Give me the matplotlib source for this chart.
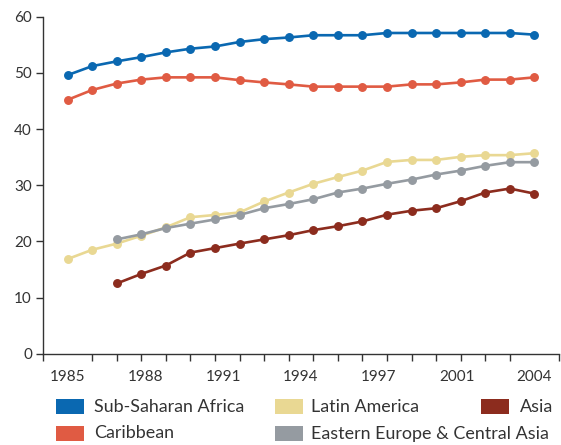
import matplotlib
matplotlib.use("Agg")
import matplotlib.pyplot as plt
from matplotlib.patches import Rectangle
import numpy as np

plt.rcParams['font.family'] = ['Lato', 'DejaVu Sans']

years = list(range(1985, 2005))
tick_labels = ["1985", "1988", "1991", "1994", "1997", "2001", "2004"]

ssa = [49.6, 51.2, 52.05, 52.8, 53.65, 54.3, 54.7, 55.5, 56.0, 56.3,
       56.7, 56.7, 56.7, 57.1, 57.1, 57.1, 57.1, 57.1, 57.1, 56.8]
carib = [45.2, 46.95, 48.1, 48.8, 49.2, 49.2, 49.2, 48.7, 48.3, 47.95,
         47.55, 47.55, 47.55, 47.55, 47.95, 47.95, 48.3, 48.8, 48.8, 49.2]
latam = [16.85, 18.5, 19.6, 21.0, 22.5, 24.3, 24.7, 25.15, 27.1, 28.7,
         30.25, 31.45, 32.6, 34.15, 34.5, 34.5, 35.05, 35.35, 35.35, 35.7]
eeca = [None, None, 20.35, 21.25, 22.37, 23.15, 23.9, 24.7, 25.9, 26.65,
        27.5, 28.7, 29.4, 30.25, 31.0, 31.9, 32.6, 33.45, 34.1, 34.1]
asia = [None, None, 12.5, 14.2, 15.7, 18.0, 18.8, 19.6, 20.35, 21.1,
        22.0, 22.7, 23.55, 24.75, 25.45, 25.9, 27.15, 28.7, 29.4, 28.5]

series = [
    ("Sub-Saharan Africa", ssa, "#0a68b1"),
    ("Caribbean", carib, "#e05b43"),
    ("Latin America", latam, "#e9d893"),
    ("Eastern Europe & Central Asia", eeca, "#959ba1"),
    ("Asia", asia, "#8c2c1e"),
]

fig = plt.figure(figsize=(5.61, 4.45), dpi=100)
ax = fig.add_axes([43/561, 1-353.7/445, (559-43)/561, (353.7-16.7)/445])

idx = np.arange(len(years))
draw_order = ["Latin America", "Eastern Europe & Central Asia", "Asia", "Caribbean", "Sub-Saharan Africa"]
sd = {n: (v, c) for n, v, c in series}
for n in draw_order:
    v, c = sd[n]
    arr = np.array([np.nan if x is None else x for x in v], dtype=float)
    ax.plot(idx, arr, color=c, lw=1.9, marker='o', ms=5.4, mec=c, mfc=c, solid_capstyle='round')

ax.set_xlim(-1, 20)
ax.set_ylim(0, 60)
ax.spines['top'].set_visible(False)
ax.spines['right'].set_visible(False)
for s in ['left', 'bottom']:
    ax.spines[s].set_color('#333333')
    ax.spines[s].set_linewidth(1.0)

ax.set_yticks([0, 10, 20, 30, 40, 50, 60])
ax.tick_params(axis='y', length=5, width=1, color='#333333', labelsize=11, labelcolor='#333333', pad=3)
major_pos = [i * 19 / 6 for i in range(7)]
ax.set_xticks(major_pos)
ax.set_xticklabels(tick_labels)
ax.set_xticks(np.arange(-1, 21), minor=True)
ax.tick_params(axis='x', which='major', length=0, labelsize=11, labelcolor='#333333', pad=12)
ax.tick_params(axis='x', which='minor', length=5, width=1, color='#333333')

# legend
legend_items = [
    ("Sub-Saharan Africa", "#0a68b1", 56, 94, 406.5),
    ("Latin America", "#e9d893", 274.5, 311, 406.5),
    ("Asia", "#8c2c1e", 481, 520, 406.5),
    ("Caribbean", "#e05b43", 56, 94, 433.5),
    ("Eastern Europe & Central Asia", "#959ba1", 274.5, 311, 433.5),
]
for name, c, px, tx, yc in legend_items:
    fig.patches.append(Rectangle((px/561, 1-(yc+7.5)/445), 28/561, 15/445,
                                 transform=fig.transFigure, facecolor=c, edgecolor='none'))
    fig.text(tx/561, 1-yc/445, name, fontsize=12.9, color='#333333', va='center', ha='left')

fig.savefig("out.png", dpi=100)
